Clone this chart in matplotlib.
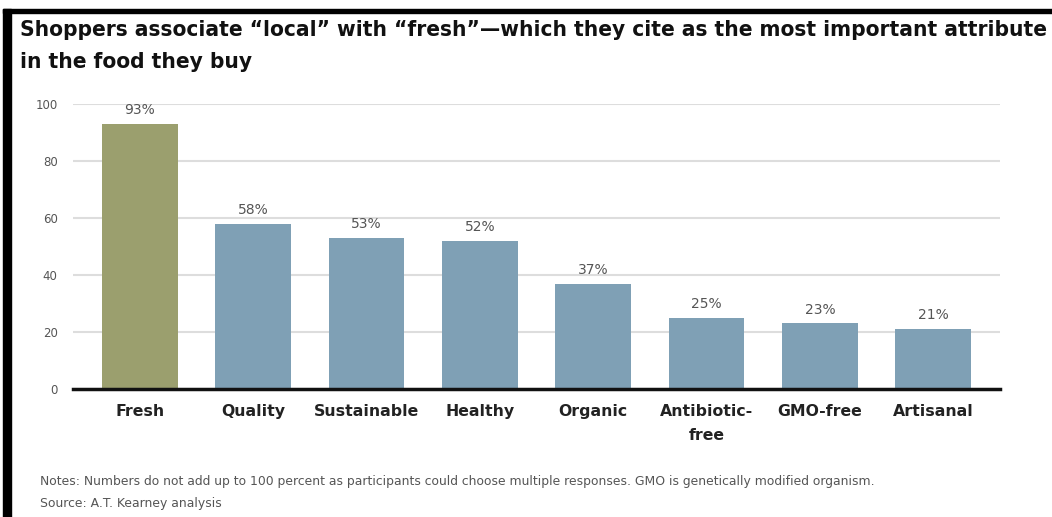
import matplotlib
matplotlib.use('Agg')
import matplotlib.pyplot as plt
from matplotlib.patches import Rectangle

# data
categories = ['Fresh', 'Quality', 'Sustainable', 'Healthy', 'Organic',
              'Antibiotic-\nfree', 'GMO-free', 'Artisanal']
shares = [93, 58, 53, 52, 37, 25, 23, 21]
yticks = [0, 20, 40, 60, 80, 100]
title_lines = ['Shoppers associate \u201clocal\u201d with \u201cfresh\u201d\u2014which they cite as the most important attribute',
               'in the food they buy']

olive = '#9b9f6e'
blue = '#7fa0b5'
grey_text = '#555555'

fig = plt.figure(figsize=(10.52, 5.17), dpi=100)
ax = fig.add_axes([73/1052, 1 - 389/517, 927/1052, 285/517])

colors = [olive] + [blue] * (len(shares) - 1)
x = list(range(len(categories)))
bars = ax.bar(x, shares, width=0.67, color=colors, zorder=3)

for b, v in zip(bars, shares):
    ax.annotate(f'{v}%', (b.get_x() + b.get_width() / 2, v),
                xytext=(0, 5), textcoords='offset points',
                ha='center', va='bottom', fontsize=10, color=grey_text,
                clip_on=False)

ax.set_xlim(-0.59, 7.59)
ax.set_ylim(0, 100)
ax.set_yticks(yticks)
ax.set_yticklabels([str(t) for t in yticks], fontsize=8.5, color=grey_text)
ax.set_xticks(x)
ax.set_xticklabels(categories, fontsize=11.3, fontweight='bold', color='#222222',
                   linespacing=1.75)
ax.tick_params(axis='y', length=0, pad=11)
ax.tick_params(axis='x', length=0, pad=11)
ax.grid(axis='y', color='#dddddd', linewidth=1.5, zorder=0)
for s in ['top', 'right', 'left']:
    ax.spines[s].set_visible(False)
ax.spines['bottom'].set_linewidth(2.5)
ax.spines['bottom'].set_color('#111111')
ax.spines['bottom'].set_zorder(4)

# title: two lines, first one shrunk to span 20..1045 px
t1 = fig.text(20/1052, 1 - 30/517, title_lines[0], fontweight='bold',
              fontstretch='condensed', fontsize=16, va='center', ha='left',
              color='#111111')
renderer = fig.canvas.get_renderer()
w = t1.get_window_extent(renderer).width
size = 16 * 1025 / w
t1.set_fontsize(size)
fig.text(20/1052, 1 - 62/517, title_lines[1], fontweight='bold',
         fontstretch='condensed', fontsize=size, va='center', ha='left',
         color='#111111')

fig.text(40/1052, 1 - 481/517,
         'Notes: Numbers do not add up to 100 percent as participants could choose multiple responses. GMO is genetically modified organism.',
         fontsize=8.9, color=grey_text, va='center')
fig.text(40/1052, 1 - 503/517, 'Source: A.T. Kearney analysis',
         fontsize=8.9, color=grey_text, va='center')

# black frame edges at left and top
fig.add_artist(Rectangle((3/1052, 0), 8/1052, 1 - 9/517, transform=fig.transFigure,
                         color='black', zorder=10))
fig.add_artist(Rectangle((3/1052, 1 - 13/517), 1, 4/517, transform=fig.transFigure,
                         color='black', zorder=10))

fig.savefig('out.png', dpi=100)
